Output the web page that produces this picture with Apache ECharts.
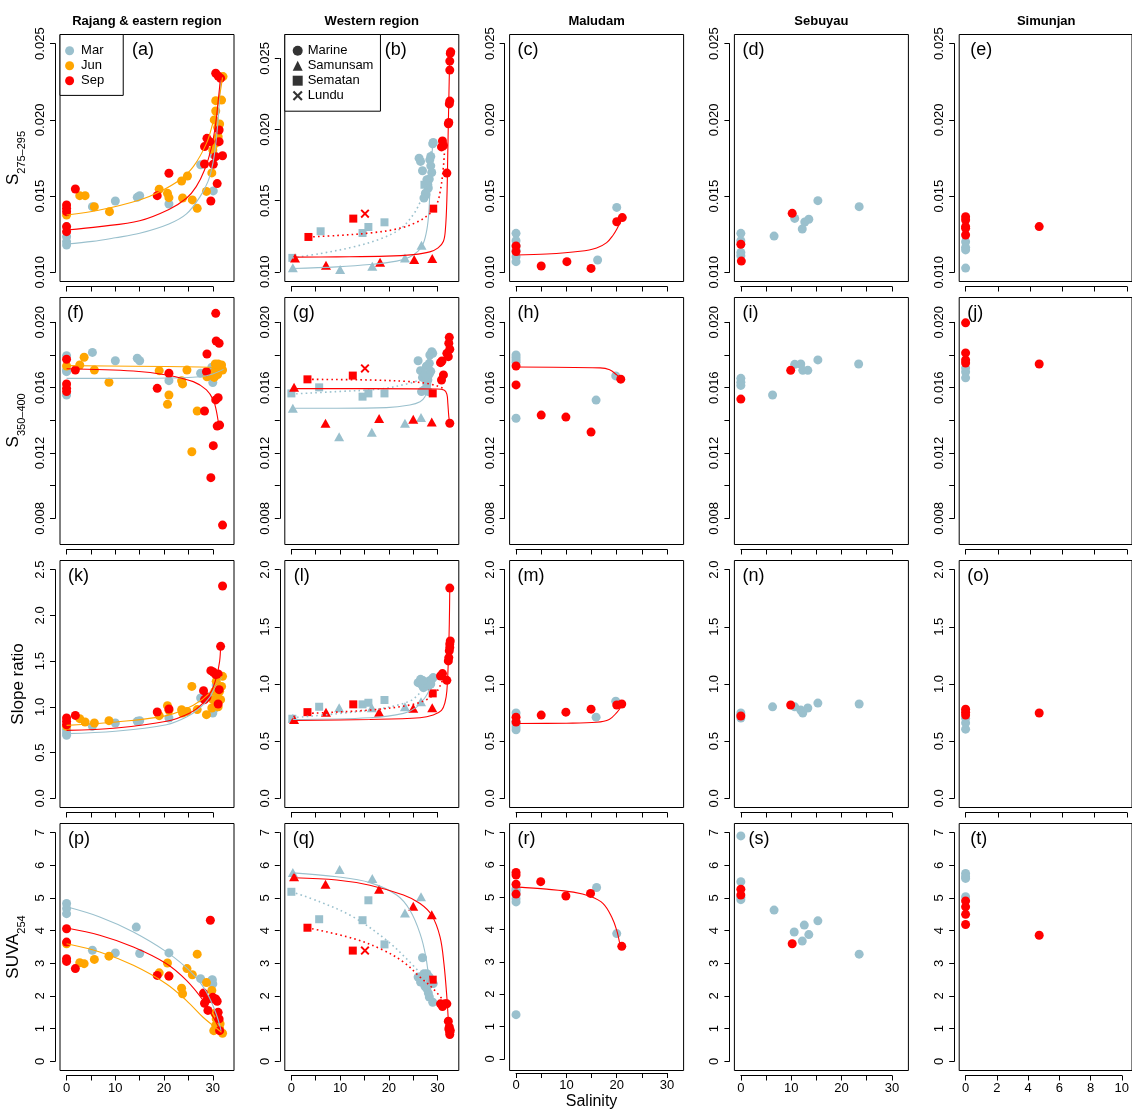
<!DOCTYPE html>
<html><head><meta charset="utf-8">
<script src="https://cdn.jsdelivr.net/npm/echarts/dist/echarts.min.js"></script>
<style>html,body{margin:0;padding:0;background:#fff}#c{width:1132px;height:1111px}</style>
</head><body><div id="c"></div><script>
// ---------- DATA: [salinity, value] ----------
// Row 1: S275-295
const aMar=[[0,0.0130],[0,0.01234],[0,0.01201],[0,0.01179],[5.3,0.01431],[10,0.01468],[14.5,0.01492],[15,0.01503],[21,0.01448],[27.5,0.01706],[30.1,0.01776],[30.1,0.01534]];
const aJun=[[0,0.01376],[2.7,0.01503],[3.8,0.01503],[5.7,0.01431],[8.8,0.01398],[19,0.01545],[20.7,0.01518],[21,0.0149],[23.6,0.01599],[24.8,0.01632],[23.8,0.01488],[25.8,0.01475],[26.8,0.0142],[28.7,0.01531],[29.8,0.01652],[30,0.01803],[30.3,0.0200],[30.6,0.02058],[30.6,0.02126],[31.8,0.0213],[32.1,0.02284],[31.4,0.01973],[31.1,0.0189],[30.5,0.01845],[31.0,0.0195]];
const aSep=[[0,0.01442],[0,0.0142],[0,0.01398],[0,0.0130],[0,0.01267],[1.8,0.01547],[18.6,0.01503],[21,0.0165],[28.3,0.01825],[28.8,0.01879],[29.4,0.01857],[28.3,0.01711],[29.6,0.01468],[30.1,0.01709],[30.6,0.01759],[30.9,0.01582],[31.3,0.01934],[31.3,0.01857],[32,0.01765],[30.6,0.02306],[31.1,0.02288],[31.6,0.02273]];
const aMarFit=[[0,0.01186],[5.3,0.01203],[10,0.01227],[15,0.01256],[21,0.01317],[24.6,0.01383],[27.3,0.01492],[29,0.01595],[30.05,0.0172],[30.7,0.01868],[31.2,0.02043],[31.6,0.02262]];
const aJunFit=[[0,0.01376],[6.8,0.01409],[15,0.01475],[19.1,0.01529],[23.2,0.01606],[26,0.01693],[28.7,0.01846],[30,0.01978],[31.1,0.02109],[32,0.02279]];
const aSepFit=[[0,0.01278],[6.8,0.0130],[15,0.01339],[21,0.01413],[24.6,0.01486],[26.6,0.01562],[28.3,0.01671],[29.7,0.01814],[30.6,0.01978],[31.2,0.02153],[31.6,0.02284]];

const bMarCirc=[[26.2,0.01799],[26.5,0.01776],[26.9,0.0171],[27.2,0.01519],[27.6,0.01542],[27.8,0.01647],[28.0,0.01612],[28.3,0.01652],[28.4,0.01787],[28.6,0.01745],[28.8,0.01698],[29.0,0.0190],[29.1,0.01909],[27.5,0.01553],[28.1,0.01589],[28.6,0.01811]];
const bMarTri=[[0.3,0.01028],[10,0.01016],[16.6,0.0104],[23.3,0.01098],[26.7,0.01187]];
const bMarSq=[[0.2,0.01098],[6,0.01285],[14.6,0.01273],[15.8,0.01315],[19.1,0.01348],[27.3,0.01612]];
const bSepCirc=[[31,0.0192],[31.2,0.01888],[30.8,0.01878],[31.9,0.01694],[32.2,0.0204],[32.3,0.0205],[32.4,0.0218],[32.5,0.0220],[32.5,0.02418],[32.5,0.02481],[32.6,0.02535],[32.7,0.02546]];
const bSepTri=[[0.75,0.01098],[7.1,0.01047],[18.2,0.01068],[25.2,0.01086],[28.9,0.01093]];
const bSepSq=[[3.5,0.01245],[12.7,0.01374],[29.1,0.01444]];
const bSepX=[[15.1,0.01409]];
const bMarTriFit=[[0.3,0.01023],[9.3,0.01035],[16.1,0.01051],[21.6,0.01075],[24.3,0.01105],[26,0.01145],[27.1,0.01203],[27.8,0.01297],[28.2,0.01413],[28.4,0.01554],[28.7,0.0174],[29,0.01904]];
const bSepTriFit=[[0.75,0.01103],[9.3,0.01105],[19.5,0.0111],[25,0.01121],[28.4,0.0114],[30.1,0.01168],[31.2,0.01215],[31.6,0.01297],[31.9,0.01507],[32.1,0.01857],[32.3,0.02208],[32.5,0.02535]];
const bMarSqFit=[[0.2,0.01098],[5.9,0.01128],[12.7,0.01175],[18.2,0.01231],[22.3,0.01301],[25,0.01402],[26.7,0.01512],[27.8,0.01624],[28.4,0.01764],[28.8,0.01881]];
const bSepSqFit=[[3.5,0.01245],[9.3,0.01255],[16.1,0.01273],[21.6,0.01301],[25.7,0.01348],[28.4,0.01409],[29.8,0.01472],[30.6,0.01577],[31.2,0.01741],[31.5,0.01904]];

const cMar=[[0,0.01256],[0,0.01208],[0,0.01173],[0,0.01147],[0,0.01103],[0,0.0107],[16.2,0.01081],[20,0.01426]];
const cSep=[[0,0.01173],[0,0.01136],[5,0.01042],[10.1,0.0107],[14.9,0.01026],[20,0.01332],[21.1,0.01359]];
const cSepFit=[[0,0.01114],[6.1,0.0112],[12.7,0.01138],[16,0.0116],[18,0.01195],[19.3,0.01245],[20,0.01282],[20.5,0.01317]];
const dMar=[[0,0.01256],[0,0.01208],[0,0.01131],[0,0.01109],[6.6,0.01238],[10.7,0.01354],[12.2,0.01284],[12.7,0.0133],[13.5,0.01348],[15.3,0.0147],[23.5,0.01431]];
const dSep=[[0,0.01184],[0.1,0.01074],[10.2,0.01387]];
const eMar=[[0,0.01201],[0,0.01164],[0,0.01147],[0,0.01028]];
const eSep=[[0,0.01365],[0,0.01343],[0,0.013],[0,0.01289],[0,0.01245],[4.6,0.013]];

// Row 2: S350-400
const fMar=[[0,0.01796],[0,0.01708],[0,0.01698],[0,0.01555],[5.3,0.01816],[10,0.01765],[14.5,0.0178],[15,0.01765],[21,0.01643],[27.5,0.01688],[29.8,0.01725],[30,0.01631]];
const fJun=[[0,0.01733],[2.7,0.01739],[3.6,0.01786],[5.7,0.01708],[8.7,0.01633],[19,0.01704],[21,0.01555],[20.7,0.01498],[23.6,0.01643],[23.8,0.01623],[24.7,0.01708],[25.7,0.01208],[26.8,0.01457],[28.8,0.01667],[30,0.01688],[31.1,0.01745],[31.4,0.01733],[31.8,0.01739],[32,0.01708],[30.6,0.01712],[30.3,0.01663],[31,0.0168],[30.5,0.01745]];
const fSep=[[0,0.01774],[0,0.01623],[0,0.01596],[0,0.01576],[1.8,0.01708],[18.6,0.01596],[21,0.01688],[28.3,0.01457],[28.7,0.01698],[28.8,0.01806],[29.6,0.01049],[30.1,0.01245],[30.6,0.02055],[30.7,0.01886],[31.3,0.01872],[30.6,0.01525],[31.1,0.01539],[30.9,0.01365],[31.4,0.01371],[32,0.00759]];
const fMarFit=[[0,0.01657],[13.7,0.01657],[23.9,0.01661],[27.3,0.01667],[30,0.01684],[32.2,0.01712]];
const fJunFit=[[0,0.01735],[13.7,0.01731],[27.3,0.01727],[31.4,0.01723]];
const fSepFit=[[0,0.01716],[13.7,0.01702],[20.5,0.01678],[26,0.01637],[28.7,0.01586],[30.1,0.01525],[30.7,0.01463],[31.2,0.01382],[31.4,0.01371]];

const gMarCirc=[[26,0.01765],[26.5,0.01704],[26.9,0.01663],[27.2,0.01586],[27.8,0.01623],[28,0.01647],[28.3,0.01684],[28.3,0.01749],[28.4,0.018],[28.8,0.0182],[29,0.0181],[28.1,0.01576],[26.7,0.01576],[27.7,0.01731],[27.5,0.0168],[28.6,0.017]];
const gMarTri=[[0.3,0.01474],[9.8,0.013],[16.5,0.01327],[23.3,0.01382],[26.6,0.01418]];
const gMarSq=[[0,0.01565],[5.7,0.01602],[14.6,0.01545],[15.8,0.01565],[19.1,0.01565],[27.8,0.01623]];
const gSepCirc=[[30.8,0.01647],[31.2,0.01678],[30.6,0.01753],[30.9,0.01763],[31.9,0.0181],[32.2,0.0179],[32.5,0.01835],[32.3,0.01872],[32.4,0.01908],[32.5,0.01382]];
const gSepTri=[[0.55,0.01602],[7,0.01382],[18,0.01412],[25,0.01406],[28.8,0.0139]];
const gSepSq=[[3.3,0.01651],[12.6,0.01674],[29,0.01565]];
const gSepX=[[15.1,0.01718]];
const gMarTriFit=[[0.3,0.01474],[9.3,0.01474],[19.5,0.01478],[24.3,0.01494],[26.4,0.01514],[27.4,0.01545],[27.9,0.01596],[28.2,0.01627]];
const gSepTriFit=[[0.55,0.01594],[16.1,0.01594],[29.8,0.01592],[31.3,0.01586],[31.9,0.01561],[32.1,0.01504],[32.3,0.01423],[32.5,0.01382]];
const gMarSqFit=[[0,0.01561],[9.3,0.01576],[18.2,0.01592],[24.3,0.01627],[26.7,0.01651],[27.8,0.01663]];
const gSepSqFit=[[3.3,0.01651],[16.1,0.01647],[24.3,0.01637],[28.4,0.01623],[31.2,0.01596],[31.5,0.0159]];

const hMar=[[0,0.0180],[0,0.01785],[0,0.0177],[0,0.01755],[0,0.01413],[15.9,0.01524],[19.8,0.01672]];
const hSep=[[0,0.01733],[0,0.01617],[5,0.01432],[9.9,0.0142],[14.9,0.01328],[20.8,0.01652]];
const hSepFit=[[0,0.01727],[16.7,0.01721],[18.6,0.01709],[20,0.01678],[20.8,0.01652]];
const iMar=[[0,0.01657],[0,0.01633],[0,0.01614],[6.3,0.01555],[10.7,0.01743],[11.9,0.01745],[12.3,0.01706],[13.3,0.01706],[15.3,0.0177],[23.4,0.01745]];
const iSep=[[0,0.0153],[9.9,0.01706]];
const jMar=[[0,0.0172],[0,0.01696],[0,0.0166]];
const jSep=[[0,0.01997],[0,0.01813],[0,0.0177],[0,0.01751],[4.6,0.01745]];

// Row 3: slope ratio
const kMar=[[0,0.75],[0,0.714],[0,0.689],[5.3,0.787],[10,0.824],[14.5,0.842],[15,0.849],[21,0.878],[27.5,1.097],[30,0.933],[29.9,1.13],[30.4,0.988],[30.7,1.24]];
const kJun=[[0,0.787],[2.7,0.871],[3.8,0.835],[5.7,0.824],[8.7,0.849],[19,0.904],[20.7,1.013],[21,0.962],[23.6,0.969],[23.8,0.933],[24.7,0.95],[25.7,1.224],[26.8,0.97],[28.7,0.915],[29.8,0.988],[30,1.079],[30.4,1.17],[30.7,1.279],[31.1,1.097],[31.4,1.17],[31.8,1.224],[32,1.334],[31.6,1.079],[31.1,1.0]];
const kSep=[[0,0.878],[0,0.842],[0,0.805],[1.8,0.907],[18.6,0.944],[21,0.977],[28.1,1.177],[28.3,1.079],[28.8,1.108],[29.6,1.396],[30.1,1.381],[30.6,1.352],[31.1,1.36],[31.3,1.188],[31.1,1.031],[31.6,1.662],[32,2.321]];
const kMarFit=[[0,0.707],[10,0.733],[20.5,0.805],[24.6,0.889],[27.3,0.988],[29.4,1.108],[30.7,1.243],[31.8,1.32]];
const kJunFit=[[0,0.798],[10.2,0.835],[20.5,0.904],[26,1.017],[29.4,1.152],[31.8,1.334]];
const kSepFit=[[0,0.743],[10.2,0.769],[20.5,0.842],[25.3,0.933],[28,1.042],[29.7,1.17],[30.7,1.316],[31.4,1.498],[31.6,1.662]];

const lMarCirc=[[26,1.012],[26.5,1.041],[27.1,0.968],[27.8,0.997],[28.3,1.026],[28.8,1.041],[29.1,1.056],[27.4,1.012],[28.1,0.982],[26.8,0.99],[28.6,1.0],[27,1.03]];
const lMarTri=[[0.3,0.70],[9.8,0.792],[16.5,0.792],[23.3,0.801],[26.6,0.845]];
const lMarSq=[[0.2,0.696],[5.7,0.801],[14.6,0.822],[15.8,0.836],[19.1,0.86]];
const lSepCirc=[[30.6,1.07],[31,1.091],[31.9,1.032],[32.2,1.202],[32.3,1.231],[32.5,1.319],[32.6,1.377],[32.5,1.35],[32.5,1.839],[32.4,1.29]];
const lSepTri=[[0.55,0.69],[7.1,0.754],[18,0.754],[25,0.787],[28.9,0.792]];
const lSepSq=[[3.3,0.754],[12.7,0.822],[29,0.918]];
const lMarTriFit=[[0.3,0.69],[16.1,0.705],[23,0.743],[25.7,0.798],[27.4,0.88],[28.4,0.953],[29.1,1.012]];
const lSepTriFit=[[0.55,0.681],[16.1,0.69],[26.4,0.705],[29.1,0.728],[30.8,0.769],[31.5,0.836],[31.9,0.939],[32.2,1.202],[32.4,1.523],[32.5,1.839]];
const lMarSqFit=[[0.2,0.705],[9.3,0.74],[18.2,0.784],[24.3,0.851],[26.7,0.939],[27.8,1.012]];
const lSepSqFit=[[3.3,0.743],[16.1,0.772],[24.3,0.816],[27.8,0.865],[29.8,0.933],[30.8,1.012],[31.3,1.07]];

const mMar=[[0,0.746],[0,0.675],[0,0.623],[0,0.60],[0,0.65],[15.9,0.71],[19.8,0.85]];
const mSep=[[0,0.71],[0,0.667],[5,0.728],[9.9,0.754],[14.9,0.78],[20,0.816],[21,0.825]];
const mSepFit=[[0,0.655],[10,0.657],[16,0.665],[18.5,0.69],[20,0.75],[21,0.81]];
const nMar=[[0,0.746],[0,0.728],[0,0.702],[6.3,0.8],[10.7,0.8],[11.9,0.772],[12.3,0.746],[13.3,0.79],[15.3,0.833],[23.5,0.825]];
const nSep=[[0,0.72],[9.9,0.816]];
const oMar=[[0,0.70],[0,0.66],[0,0.605]];
const oSep=[[0,0.78],[0,0.754],[0,0.728],[4.6,0.746]];

// Row 4: SUVA254
const pMar=[[0,4.83],[0,4.68],[0,4.52],[5.3,3.4],[10,3.32],[14.3,4.11],[15,3.3],[21,3.32],[27.5,2.53],[29.8,2.48],[30,2.37],[29.9,2.5]];
const pJun=[[0,3.6],[2.7,3.02],[3.6,2.99],[5.7,3.12],[8.7,3.22],[19,2.71],[20.7,3.01],[21,2.61],[23.6,2.24],[23.8,2.07],[24.7,2.84],[25.8,2.65],[26.8,3.28],[28.7,2.41],[29.8,2.17],[30.4,1.47],[30.2,0.94],[31.1,1.1],[31.4,1.0],[32,0.86],[30.7,1.3],[31.5,1.15],[31,1.0],[30.6,1.1]];
const pSep=[[0,4.06],[0,3.65],[0,3.14],[0,3.06],[1.8,2.84],[18.6,2.63],[21,2.61],[28.1,2.09],[28.3,1.78],[28.8,1.89],[29.5,4.32],[30.1,1.91],[30.6,1.91],[30.9,1.84],[29,1.56],[31.1,1.5],[31.3,1.3],[31.4,0.94],[30,1.96]];
const pMarFit=[[0,4.73],[6.8,4.42],[13.7,3.96],[20.5,3.35],[25.9,2.68],[28.7,2.12],[30.7,1.45],[31.7,0.94]];
const pJunFit=[[0,3.6],[6.8,3.35],[13.7,2.94],[20.5,2.37],[24.6,1.86],[28,1.35],[30.1,1.09],[31.8,0.89]];
const pSepFit=[[0,4.08],[6.8,3.86],[13.7,3.5],[20.5,2.99],[24.6,2.48],[28,1.87],[30.1,1.35],[31.4,0.99]];

const qMarCirc=[[26.9,3.17],[26,2.58],[26.5,2.43],[26.9,2.58],[27.2,2.68],[27.8,2.68],[28.3,2.58],[28.8,2.38],[27.8,2.22],[28.1,2.09],[28.3,1.97],[29,1.81],[28.4,2.43],[29.1,2.38],[27.4,2.3]];
const qMarTri=[[0.3,5.78],[9.9,5.87],[16.6,5.6],[23.3,4.54],[26.6,5.04]];
const qMarSq=[[0,5.19],[5.7,4.35],[14.6,4.32],[15.8,4.93],[19.1,3.58]];
const qSepCirc=[[30.6,1.76],[31,1.68],[31.5,1.76],[31.9,1.76],[32.2,1.23],[32.3,0.99],[32.5,0.89],[32.5,0.82],[32.4,1.05],[32.6,0.95]];
const qSepTri=[[0.55,5.65],[7,5.42],[18,5.27],[25,4.75],[28.8,4.49]];
const qSepSq=[[3.3,4.09],[12.6,3.39],[29,2.5]];
const qSepX=[[15.1,3.39]];
const qMarTriFit=[[0.3,5.77],[9.3,5.65],[16.1,5.47],[21.6,5.09],[24.3,4.63],[26.4,3.91],[27.6,3.19],[28.3,2.37]];
const qSepTriFit=[[0.55,5.62],[9.3,5.55],[16.1,5.39],[23,5.09],[26.4,4.83],[28.8,4.47],[30.5,3.81],[31.3,2.99],[31.9,1.97],[32.2,1.25]];
const qMarSqFit=[[0,5.19],[5.9,4.88],[12.7,4.42],[19.5,3.71],[24.3,3.04],[27.1,2.58]];
const qSepSqFit=[[3.3,4.09],[12.7,3.76],[18.9,3.4],[23,3.04],[26.4,2.58],[29.1,2.22],[31.2,1.86]];

const rMar=[[0,5.29],[0,5.19],[0,5.09],[0,4.98],[0,4.88],[0,5.24],[0,1.43],[16,5.32],[20,3.91]];
const rSep=[[0,5.78],[0,5.7],[0,5.42],[0,5.12],[4.9,5.5],[9.9,5.06],[14.8,5.14],[21,3.52]];
const rSepFit=[[0,5.34],[6.1,5.27],[11.4,5.18],[14.7,5.05],[17.3,4.83],[19,4.42],[20,4.01],[20.6,3.6]];
const sMar=[[0,6.9],[0,5.5],[0,5.02],[0,4.95],[6.6,4.63],[10.6,3.96],[12.2,3.68],[12.6,4.17],[13.5,3.88],[15.3,4.3],[23.5,3.28]];
const sSep=[[0,5.27],[0,5.09],[10.2,3.6]];
const tMar=[[0,5.75],[0,5.65],[0,5.6],[0,5.04]];
const tSep=[[0,4.91],[0,4.73],[0,4.5],[0,4.19],[4.6,3.86]];

// Text
const colTitles=['Rajang & eastern region','Western region','Maludam','Sebuyau','Simunjan'];
const rowNames=['{m|S}{s|275–295}','{m|S}{s|350–400}','Slope ratio','{m|SUVA}{s|254}'];
const panelLabels=['(a)','(b)','(c)','(d)','(e)','(f)','(g)','(h)','(i)','(j)','(k)','(l)','(m)','(n)','(o)','(p)','(q)','(r)','(s)','(t)'];

// ---------- STYLE / LAYOUT ----------
const MAR='#9AC0CD', JUN='#FFA500', SEP='#FF0000';
const CROSS='path://M0,1.5 L1.5,0 L5,3.5 L8.5,0 L10,1.5 L6.5,5 L10,8.5 L8.5,10 L5,6.5 L1.5,10 L0,8.5 L3.5,5 Z';
const FONT='"Liberation Sans", Arial, Helvetica, sans-serif';
const colLeft=[60,284.8,509.6,734.4,959.2], rowTop=[34.5,297.5,560.5,823.5], W=174, H=247;
const xRanges=[[-1.35,34.35],[-1.35,34.35],[-1.28,33.28],[-1.28,33.28],[-0.4,10.4]];
const xTicks=[[0,30,5],[0,30,5],[0,30,5],[0,30,5],[0,10,2]];
function yRange(r,c){
  if(r===0) return c===1?[0.00932,0.02668]:[0.0094,0.0256];
  if(r===1) return [0.0064,0.02152];
  if(r===2) return c===0?[-0.1,2.6]:[-0.08,2.08];
  return [-0.28,7.28];
}
function yTicks(r,c){
  if(r===0) return [0.010,0.025,0.005];
  if(r===1) return [0.008,0.020,0.002];
  if(r===2) return c===0?[0,2.5,0.5]:[0,2,0.5];
  return [0,7,1];
}
const yFmt=[v=>v.toFixed(3), v=>(Math.round(v*1000)%4===0?v.toFixed(3):''), v=>v.toFixed(1), v=>v.toFixed(0)];

const P=(d,c,s='circle',n)=>({kind:'pt',d,c,s,n});
const F=(d,c,dash=false)=>({kind:'fit',d,c,dash});
const panels=[
 [P(aMar,MAR,'circle','Mar'),P(aJun,JUN,'circle','Jun'),P(aSep,SEP,'circle','Sep'),F(aMarFit,MAR),F(aJunFit,JUN),F(aSepFit,SEP)],
 [P(bMarCirc,MAR),P(bMarTri,MAR,'triangle'),P(bMarSq,MAR,'rect'),P(bSepCirc,SEP),P(bSepTri,SEP,'triangle'),P(bSepSq,SEP,'rect'),P(bSepX,SEP,CROSS),F(bMarTriFit,MAR),F(bMarSqFit,MAR,true),F(bSepTriFit,SEP),F(bSepSqFit,SEP,true)],
 [P(cMar,MAR),P(cSep,SEP),F(cSepFit,SEP)],
 [P(dMar,MAR),P(dSep,SEP)],
 [P(eMar,MAR),P(eSep,SEP)],
 [P(fMar,MAR),P(fJun,JUN),P(fSep,SEP),F(fMarFit,MAR),F(fJunFit,JUN),F(fSepFit,SEP)],
 [P(gMarCirc,MAR),P(gMarTri,MAR,'triangle'),P(gMarSq,MAR,'rect'),P(gSepCirc,SEP),P(gSepTri,SEP,'triangle'),P(gSepSq,SEP,'rect'),P(gSepX,SEP,CROSS),F(gMarTriFit,MAR),F(gMarSqFit,MAR,true),F(gSepTriFit,SEP),F(gSepSqFit,SEP,true)],
 [P(hMar,MAR),P(hSep,SEP),F(hSepFit,SEP)],
 [P(iMar,MAR),P(iSep,SEP)],
 [P(jMar,MAR),P(jSep,SEP)],
 [P(kMar,MAR),P(kJun,JUN),P(kSep,SEP),F(kMarFit,MAR),F(kJunFit,JUN),F(kSepFit,SEP)],
 [P(lMarCirc,MAR),P(lMarTri,MAR,'triangle'),P(lMarSq,MAR,'rect'),P(lSepCirc,SEP),P(lSepTri,SEP,'triangle'),P(lSepSq,SEP,'rect'),F(lMarTriFit,MAR),F(lMarSqFit,MAR,true),F(lSepTriFit,SEP),F(lSepSqFit,SEP,true)],
 [P(mMar,MAR),P(mSep,SEP),F(mSepFit,SEP)],
 [P(nMar,MAR),P(nSep,SEP)],
 [P(oMar,MAR),P(oSep,SEP)],
 [P(pMar,MAR),P(pJun,JUN),P(pSep,SEP),F(pMarFit,MAR),F(pJunFit,JUN),F(pSepFit,SEP)],
 [P(qMarCirc,MAR),P(qMarTri,MAR,'triangle'),P(qMarSq,MAR,'rect'),P(qSepCirc,SEP),P(qSepTri,SEP,'triangle'),P(qSepSq,SEP,'rect'),P(qSepX,SEP,CROSS),F(qMarTriFit,MAR),F(qMarSqFit,MAR,true),F(qSepTriFit,SEP),F(qSepSqFit,SEP,true)],
 [P(rMar,MAR),P(rSep,SEP),F(rSepFit,SEP)],
 [P(sMar,MAR),P(sSep,SEP)],
 [P(tMar,MAR),P(tSep,SEP)]
];
const labelDx=[72,100,8,8,11, 7,8,8,8,8, 8,9,8,8,8, 8,8,8,14,11];
const symSize={circle:9,triangle:[10,9],rect:8};

const grid=[],xAxis=[],yAxis=[],series=[],title=[];
const txt={fontFamily:FONT,color:'#000'};
panels.forEach((items,p)=>{
  const r=Math.floor(p/5), c=p%5;
  const L=colLeft[c], T=rowTop[r];
  const xr=xRanges[c], yr=yRange(r,c), xt=xTicks[c], yt=yTicks(r,c);
  const gx=v=>L+(v-xr[0])/(xr[1]-xr[0])*W;
  const gy=v=>T+(yr[1]-v)/(yr[1]-yr[0])*H;
  grid.push({left:L,top:T,width:W,height:H,show:true,borderColor:'#000',borderWidth:1,backgroundColor:'transparent'});
  xAxis.push({gridIndex:2*p,type:'value',min:xr[0],max:xr[1],show:false});
  yAxis.push({gridIndex:2*p,type:'value',min:yr[0],max:yr[1],show:false});
  const tl=gx(xt[0]), tr=gx(xt[1]), tt=gy(yt[1]), tb=gy(yt[0]);
  grid.push({left:tl,top:tt,width:tr-tl,height:tb-tt,show:false});
  const xa={gridIndex:2*p+1,type:'value',min:xt[0],max:xt[1],interval:xt[2],position:'bottom',offset:(T+H)-tb+5,
    axisLine:{show:true,onZero:false,lineStyle:{color:'#000',width:1}},axisTick:{show:true,length:5,lineStyle:{color:'#000'}},
    axisLabel:{show:r===3,margin:6,fontSize:13,fontFamily:FONT,color:'#000',
      formatter:v=>(c<4?(Math.round(v)%10===0?String(Math.round(v)):''):String(Math.round(v)))},
    splitLine:{show:false}};
  if(r===3&&c===2){xa.name='Salinity';xa.nameLocation='middle';xa.nameGap=21;xa.nameTextStyle={...txt,fontSize:16};}
  xAxis.push(xa);
  const ya={gridIndex:2*p+1,type:'value',min:yt[0],max:yt[1],interval:yt[2],position:'left',offset:tl-L+5,
    axisLine:{show:true,onZero:false,lineStyle:{color:'#000',width:1}},axisTick:{show:true,length:5,lineStyle:{color:'#000'}},
    axisLabel:{show:true,rotate:90,margin:8,fontSize:13,fontFamily:FONT,color:'#000',formatter:yFmt[r]},
    splitLine:{show:false}};
  if(c===0){
    ya.name=rowNames[r];ya.nameLocation='middle';ya.nameRotate=90;ya.nameGap=28;
    ya.nameTextStyle={...txt,fontSize:17,rich:{
      m:{...txt,fontSize:17,verticalAlign:'bottom',padding:[0,0,5,0]},
      s:{...txt,fontSize:11,verticalAlign:'bottom'}}};
  }
  yAxis.push(ya);
  items.forEach(it=>{
    if(it.kind==='pt'){
      series.push({type:'scatter',name:it.n||undefined,xAxisIndex:2*p,yAxisIndex:2*p,data:it.d,
        symbol:it.s,symbolSize:symSize[it.s]||9,itemStyle:{color:it.c,opacity:1},silent:true,z:3});
    }else{
      series.push({type:'line',xAxisIndex:2*p,yAxisIndex:2*p,data:it.d,showSymbol:false,symbol:'none',
        smooth:0.35,silent:true,z:4,
        lineStyle:{color:it.c,width:it.dash?1.6:1.1,type:it.dash?[1.6,3.2]:'solid'}});
    }
  });
  title.push({text:panelLabels[p],left:L+labelDx[p],top:T+6.5,padding:0,
    textStyle:{...txt,fontSize:18,fontWeight:'normal',lineHeight:18}});
});
colTitles.forEach((t,i)=>title.push({text:t,left:colLeft[i]+W/2,top:14.5,textAlign:'center',padding:0,
  textStyle:{...txt,fontSize:13,fontWeight:'bold',lineHeight:14}}));
[['Marine','circle'],['Samunsam','triangle'],['Sematan','rect'],['Lundu',CROSS]].forEach(([n,s])=>{
  series.push({type:'scatter',name:n,xAxisIndex:2,yAxisIndex:2,data:[],symbol:s,itemStyle:{color:'#000'}});
});

const chart=echarts.init(document.getElementById('c'),null,{renderer:'canvas'});
chart.setOption({
  animation:false,backgroundColor:'#fff',
  title, grid, xAxis, yAxis, series,
  legend:[
    {left:60,top:34.5,orient:'vertical',itemGap:0,itemWidth:13,itemHeight:9,padding:[8.7,19,7.2,5.1],
     borderColor:'#000',borderWidth:1,backgroundColor:'#fff',selectedMode:false,
     textStyle:{...txt,fontSize:13,lineHeight:15},
     data:[{name:'Mar',icon:'circle'},{name:'Jun',icon:'circle'},{name:'Sep',icon:'circle'}]},
    {left:284.8,top:34.5,orient:'vertical',itemGap:0,itemWidth:10,itemHeight:10,padding:[8.7,7,8,7.9],
     borderColor:'#000',borderWidth:1,backgroundColor:'#fff',selectedMode:false,
     textStyle:{...txt,fontSize:13,lineHeight:15},
     data:[{name:'Marine',icon:'circle'},{name:'Samunsam',icon:'triangle'},{name:'Sematan',icon:'rect'},{name:'Lundu',icon:CROSS}]}
  ]
});
</script></body></html>
